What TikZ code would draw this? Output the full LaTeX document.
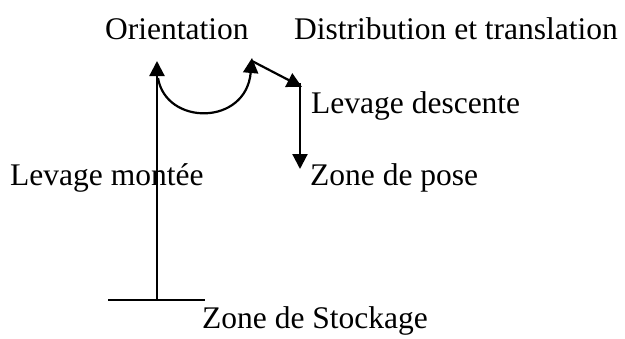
\documentclass[tikz,border=0pt]{standalone}
\usepackage{fontspec}
\setmainfont{Liberation Serif}
\usetikzlibrary{arrows.meta}
\tikzset{
  lbl/.style={anchor=base west, inner sep=0pt, font=\fontsize{31.5}{37}\selectfont},
  ln/.style={line width=2.2pt},
  arr/.style={ln, -{Triangle[width=15pt,length=15pt]}}
}
\begin{document}
\begin{tikzpicture}[x=1pt,y=-1pt]
\useasboundingbox (0,0) rectangle (625,338);
\node[lbl] (orient) at (105,39) {Orientation};
\node[lbl] (distr) at (294,39) {Distribution et translation};
\node[lbl] (desc) at (311,113) {Levage descente};
\node[lbl] (mont) at (10,185) {Levage montée};
\node[lbl] (pose) at (310,185) {Zone de pose};
\node[lbl] (stock) at (202,328) {Zone de Stockage};
\coordinate (bl) at (108,300);
\coordinate (br) at (205,300);
\coordinate (base) at (157,300);
\coordinate (top) at (157,61);
\coordinate (a0) at (158,78);
\coordinate (a1) at (252,58);
\coordinate (s0) at (252,61);
\coordinate (s1) at (302,87);
\coordinate (d0) at (300,83);
\coordinate (d1) at (300,169);
\draw[ln] (bl) -- (br);
\draw[arr] (base) -- (top);
\draw[arr] (a0) .. controls (166,126) and (246,126) .. (a1);
\draw[arr] (s0) -- (s1);
\draw[arr] (d0) -- (d1);
\end{tikzpicture}
\end{document}
